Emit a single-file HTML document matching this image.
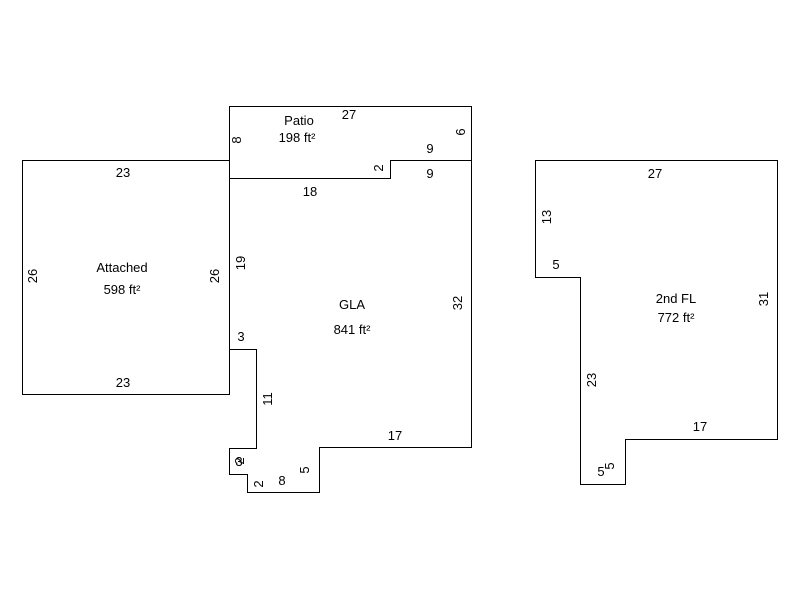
<!DOCTYPE html>
<html><head><style>body{margin:0;background:#fff}</style></head><body>
<svg width="800" height="600" xmlns="http://www.w3.org/2000/svg" style="display:block">
<g fill="none" stroke="#000" stroke-width="1">
<rect x="22.5" y="160.5" width="207" height="234"/>
<polyline points="229.5,178.5 229.5,106.5 471.5,106.5 471.5,160.5"/>
<polygon points="229.5,178.5 390.5,178.5 390.5,160.5 471.5,160.5 471.5,447.5 319.5,447.5 319.5,492.5 247.5,492.5 247.5,474.5 229.5,474.5 229.5,448.5 256.5,448.5 256.5,349.5 229.5,349.5"/>
<polygon points="535.5,160.5 777.5,160.5 777.5,439.5 625.5,439.5 625.5,484.5 580.5,484.5 580.5,277.5 535.5,277.5"/>
</g>
<g font-family="Liberation Sans, Arial, sans-serif" font-size="13" fill="#000" text-anchor="middle">
<text x="299" y="125">Patio</text><text x="297" y="142">198 ft²</text>
<text x="349" y="119">27</text><text x="430" y="153">9</text><text x="430" y="178">9</text>
<text x="310" y="196">18</text>
<text x="123" y="177">23</text><text x="123" y="387">23</text>
<text x="122" y="272">Attached</text><text x="122" y="294">598 ft²</text>
<text x="352" y="309">GLA</text><text x="352" y="334">841 ft²</text>
<text x="241" y="341">3</text><text x="395" y="440">17</text>
<text x="282" y="485">8</text>
<text x="655" y="178">27</text><text x="556" y="269">5</text>
<text x="676" y="303">2nd FL</text><text x="676" y="322">772 ft²</text>
<text x="700" y="431">17</text><text x="601" y="476">5</text>
<g transform="translate(241,140) rotate(-90)"><text>8</text></g>
<g transform="translate(465,132) rotate(-90)"><text>6</text></g>
<g transform="translate(383,168) rotate(-90)"><text>2</text></g>
<g transform="translate(37,276) rotate(-90)"><text>26</text></g>
<g transform="translate(219,276) rotate(-90)"><text>26</text></g>
<g transform="translate(245,263) rotate(-90)"><text>19</text></g>
<g transform="translate(462,303) rotate(-90)"><text>32</text></g>
<g transform="translate(272,399) rotate(-90)"><text>11</text></g>
<g transform="translate(244,461) rotate(-90)"><text>2</text></g>
<text x="239" y="466">3</text>
<g transform="translate(263,484) rotate(-90)"><text>2</text></g>
<g transform="translate(309,470) rotate(-90)"><text>5</text></g>
<g transform="translate(551,217) rotate(-90)"><text>13</text></g>
<g transform="translate(596,380) rotate(-90)"><text>23</text></g>
<g transform="translate(768,299) rotate(-90)"><text>31</text></g>
<g transform="translate(614,466) rotate(-90)"><text>5</text></g>
</g>
</svg>
</body></html>
